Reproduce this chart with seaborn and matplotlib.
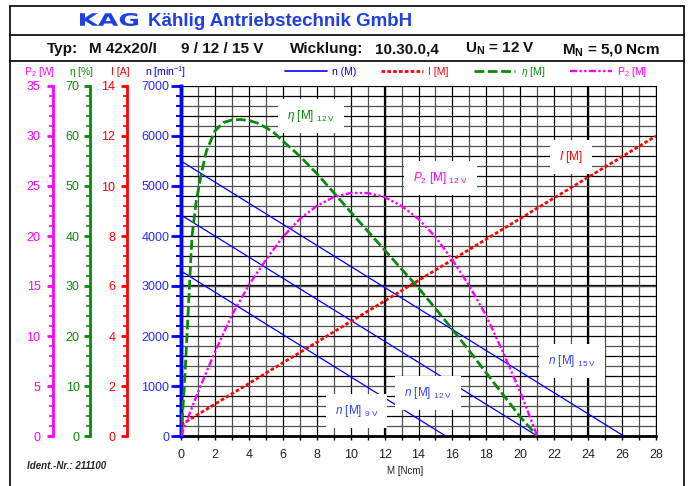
import numpy as np
import pandas as pd
import seaborn as sns
import matplotlib
matplotlib.use('Agg')
import matplotlib.pyplot as plt
from matplotlib.ticker import MultipleLocator
from matplotlib.lines import Line2D
from matplotlib.textpath import TextPath
from matplotlib.patches import PathPatch
from matplotlib.font_manager import FontProperties
from matplotlib.transforms import Affine2D

# ---- data ----
# speed lines n(M) for 9 / 12 / 15 V: no-load speed [min^-1] and stall torque [Ncm]
volts = ['9 V', '12 V', '15 V']
n_noload = [3300, 4420, 5500]
m_stall = [15.6, 21.0, 26.1]

# current I(M) (straight line over whole range)
m_cur = [0, 28]
i_cur = [0.45, 12.0]

# efficiency eta(M) at 12 V [%]
m_eta = [0, 0.1, 0.2, 0.35, 0.5, 0.65, 0.9, 1.2, 1.5, 2, 2.5, 3, 3.5, 4, 4.5, 5, 5.5, 6,
         7, 8, 9, 10, 11, 12, 13, 14, 15, 16, 17, 18, 19, 20, 21]
eta = [0, 5, 10, 20, 30, 40, 47, 52.5, 57, 61, 62.7, 63.2, 63.3, 63.1, 62.6, 61.7, 60.6, 59,
       56, 52.5, 48.7, 44.8, 41, 37.2, 33.4, 29.6, 25.5, 21.3, 17, 12.6, 8.2, 3.8, 0]

# output power P2(M) at 12 V [W]
m_p2 = [0, 1, 2, 3, 4, 5, 6, 7, 8, 9, 10, 11, 12, 13, 14, 15, 16, 17, 18, 19, 20, 21]
p2 = [0, 4.4, 8.4, 12.1, 15.1, 17.6, 19.9, 21.7, 23.0, 23.9, 24.3, 24.3, 23.9, 23.0,
      21.7, 19.9, 17.6, 15.0, 12.0, 8.3, 4.4, 0]

BLUE = '#0000ff'
RED = '#ff0000'
GREEN = '#0a8a0a'
MAG = '#ff00ff'
LOGO = '#1f3fe0'

sns.set_theme(style='white')
plt.rcParams['font.family'] = ['Liberation Sans', 'DejaVu Sans']
plt.rcParams['mathtext.fontset'] = 'custom'
plt.rcParams['mathtext.rm'] = 'Liberation Sans'
plt.rcParams['mathtext.it'] = 'Liberation Sans:italic'
plt.rcParams['mathtext.bf'] = 'Liberation Sans:bold'

W, H = 693, 486
fig = plt.figure(figsize=(W / 100, H / 100), dpi=100)
fig.patch.set_facecolor('white')

def fx(px):
    return px / W

def fy(py):
    return 1 - py / H

# main axes = speed axis
ax = fig.add_axes([fx(181), fy(436), fx(656) - fx(181), fy(86) - fy(436)])
ax.set_xlim(0, 28)
ax.set_ylim(0, 7000)
ax.xaxis.set_major_locator(MultipleLocator(2))
ax.xaxis.set_minor_locator(MultipleLocator(1))
ax.yaxis.set_major_locator(MultipleLocator(400))
ax.yaxis.set_minor_locator(MultipleLocator(200))
ax.grid(which='major', color='black', lw=0.9, zorder=0)
ax.grid(which='minor', color='#505050', lw=0.9, zorder=0)
ax.set_axisbelow(True)
for v in (12, 24):
    ax.axvline(v, color='black', lw=1.6, zorder=0.5)
ax.axhline(3000, color='black', lw=1.6, zorder=0.5)

for s in ('top', 'right'):
    ax.spines[s].set_color('black')
    ax.spines[s].set_linewidth(0.8)
ax.spines['bottom'].set_color('black')
ax.spines['bottom'].set_linewidth(2)
ax.spines['left'].set_color(BLUE)
ax.spines['left'].set_linewidth(2.5)
ax.spines['left'].set_zorder(5)

ax.tick_params(axis='x', which='both', bottom=True, direction='out', color='black',
               labelsize=9, labelcolor='#222222', pad=6)
ax.tick_params(axis='x', which='major', length=3, width=1)
ax.tick_params(axis='x', which='minor', length=3, width=1)
ax.tick_params(axis='y', which='both', left=True, direction='out', color=BLUE,
               labelcolor='#2a2aff', labelsize=9)
ax.tick_params(axis='y', which='major', length=3.5, width=1.2, pad=1.5)
ax.tick_params(axis='y', which='minor', length=3.5, width=1.2)
ax.set_xlabel('')
ax.set_ylabel('')

# speed lines
df_n = pd.DataFrame({
    'M': [m for ms in m_stall for m in (0, ms)],
    'n': [v for n0 in n_noload for v in (n0, 0)],
    'U': [u for u in volts for _ in range(2)],
})
sns.lineplot(data=df_n, x='M', y='n', units='U', estimator=None, sort=False,
             color=BLUE, lw=0.9, ax=ax, legend=False, zorder=3)
ax.set_xlabel('')
ax.set_ylabel('')


def side_axis(offset_px, color, top, major, minor, pad):
    a = ax.twinx()
    a.set_ylim(0, top)
    a.patch.set_visible(False)
    for s in ('top', 'right', 'bottom'):
        a.spines[s].set_visible(False)
    a.spines['left'].set_visible(True)
    a.spines['left'].set_position(('outward', offset_px * 0.72))
    a.spines['left'].set_color(color)
    a.spines['left'].set_linewidth(2)
    a.yaxis.set_ticks_position('left')
    a.yaxis.set_label_position('left')
    a.yaxis.set_major_locator(MultipleLocator(major))
    a.yaxis.set_minor_locator(MultipleLocator(minor))
    a.tick_params(axis='y', which='both', left=True, right=False, direction='out',
                  color=color, labelcolor=color, labelsize=9, pad=pad)
    a.tick_params(axis='y', which='major', length=4.5, width=2)
    a.tick_params(axis='y', which='minor', length=3, width=1.2)
    a.grid(False)
    return a


# labelled speed scale (every 1000) drawn as its own spine on top of the grid axis
ax_n = side_axis(0, BLUE, 7000, 1000, 200, 1.5)
ax_n.spines['left'].set_linewidth(2.5)
ax_n.tick_params(axis='y', which='major', length=7, width=2, labelcolor='#2a2aff')
ax_n.tick_params(axis='y', which='minor', length=3.5, width=1.2)
ax.tick_params(axis='y', which='both', left=False, labelleft=False)

ax_i = side_axis(54, RED, 14, 2, 0.4, 4)
ax_eta = side_axis(91, GREEN, 70, 10, 2, 3)
ax_p2 = side_axis(128, MAG, 35, 5, 1, 4.5)

sns.lineplot(x=m_cur, y=i_cur, ax=ax_i, color=RED, lw=2, linestyle=(0, (1.3, 0.8)),
             sort=False)
sns.lineplot(x=m_eta, y=eta, ax=ax_eta, color=GREEN, lw=2, linestyle=(0, (3.5, 1.3)),
             sort=False)
sns.lineplot(x=m_p2, y=p2, ax=ax_p2, color=MAG, lw=1.7,
             linestyle=(0, (3, 1, 1, 1, 1, 1)), sort=False)
for a, top in ((ax_n, 7000), (ax_i, 14), (ax_eta, 70), (ax_p2, 35)):
    a.set_ylim(0, top)
    a.set_xlim(0, 28)
    a.set_ylabel('')
    a.set_xlabel('')

# curve labels in white boxes (placed in torque / speed coordinates)
box = dict(boxstyle='square,pad=0.75', fc='white', ec='none')
lab_kw = dict(transform=ax.transData, ha='center', va='center', fontsize=8.5,
              bbox=box, zorder=10)
ax_p2.text(7.65, 6400, r'$\eta$ [M] $_{\mathrm{12\ V}}$', color=GREEN, **lab_kw)
ax_p2.text(15.3, 5160, r'$P_2$ [M] $_{\mathrm{12\ V}}$', color=MAG, **lab_kw)
ax_p2.text(23.0, 5580, r'$I$ [M]', color=RED, **lab_kw)
ax_p2.text(23.05, 1500, r'$n$ [M] $_{\mathrm{15\ V}}$', color='#3344ff', **lab_kw)
ax_p2.text(14.55, 860, r'$n$ [M] $_{\mathrm{12\ V}}$', color='#3344ff', **lab_kw)
ax_p2.text(10.35, 500, r'$n$ [M] $_{\mathrm{9\ V}}$', color='#3344ff', **lab_kw)

# legend row
handles = [
    Line2D([], [], color=BLUE, lw=1.2),
    Line2D([], [], color=RED, lw=2, linestyle=(0, (1.3, 0.8))),
    Line2D([], [], color=GREEN, lw=2, linestyle=(0, (3.5, 1.3))),
    Line2D([], [], color=MAG, lw=1.7, linestyle=(0, (3, 1, 1, 1, 1, 1))),
]
labels = ['n (M)', 'I [M]', r'$\eta$ [M]', r'P$_2$ [M]']
ax_p2.legend(handles, labels, ncol=4, loc='center', frameon=False, fontsize=7.5,
             bbox_to_anchor=(fx(466), fy(72)), bbox_transform=fig.transFigure,
             handlelength=4.0, handletextpad=0.5, columnspacing=2.4,
             labelcolor=[BLUE, RED, GREEN, MAG], borderpad=0)

# axis titles above the scales
ttl = dict(ha='center', va='center', fontsize=7.5)
fig.text(fx(40), fy(72), r'P$_2$ [W]', color=MAG, **ttl)
fig.text(fx(81), fy(72), r'$\mathrm{\eta}$ [%]', color=GREEN, **ttl)
fig.text(fx(120), fy(72), 'I [A]', color=RED, **ttl)
fig.text(fx(166), fy(72), r'n [min$^{-1}$]', color=BLUE, **ttl)
fig.text(fx(405), fy(471), 'M [Ncm]', ha='center', va='center', fontsize=7,
         color='#222222')
fig.text(fx(27), fy(466), 'Ident.-Nr.: 211100', ha='left', va='center', fontsize=7,
         fontweight='bold', fontstyle='italic')

# header frame
frame = dict(transform=fig.transFigure, color='black', lw=1.2)
fig.add_artist(Line2D([fx(10), fx(684)], [fy(6), fy(6)], **frame))
fig.add_artist(Line2D([fx(10), fx(684)], [fy(35), fy(35)], **frame))
fig.add_artist(Line2D([fx(10), fx(684)], [fy(61), fy(61)], **frame))
fig.add_artist(Line2D([fx(10), fx(10)], [fy(6), fy(486)], **frame))
fig.add_artist(Line2D([fx(684), fx(684)], [fy(6), fy(486)], **frame))

# KAG logo, stretched wide
tp = TextPath((0, 0), 'KAG', size=1, prop=FontProperties(family='DejaVu Sans', weight='bold'))
ext = tp.get_extents()
tr = (Affine2D().translate(-ext.x0, -ext.y0)
      .scale(58 / ext.width / 100, 13 / ext.height / 100)
      .translate(80 / 100, (H - 26) / 100) + fig.dpi_scale_trans)
fig.add_artist(PathPatch(tp, transform=tr, fc=LOGO, ec='none'))

fig.text(fx(148), fy(26), 'Kählig Antriebstechnik GmbH', ha='left', va='baseline',
         fontsize=13.5, fontweight='bold', color=LOGO)

hdr = dict(ha='left', va='baseline', fontsize=11, fontweight='bold', color='#111111')
fig.text(fx(47), fy(53), 'Typ:', **hdr)
fig.text(fx(89), fy(53), 'M 42x20/I', **hdr)
fig.text(fx(181), fy(53), '9 / 12 / 15 V', **hdr)
fig.text(fx(290), fy(53), 'Wicklung:', **hdr)
fig.text(fx(375), fy(53), '10.30.0,4', **hdr)
fig.text(fx(465), fy(53), r'U$_\mathbf{N}$ = 12 V', **hdr)
fig.text(fx(562), fy(53), r'M$_\mathbf{N}$ = 5,0 Ncm', **hdr)

fig.savefig('out.png', dpi=100, facecolor='white')
